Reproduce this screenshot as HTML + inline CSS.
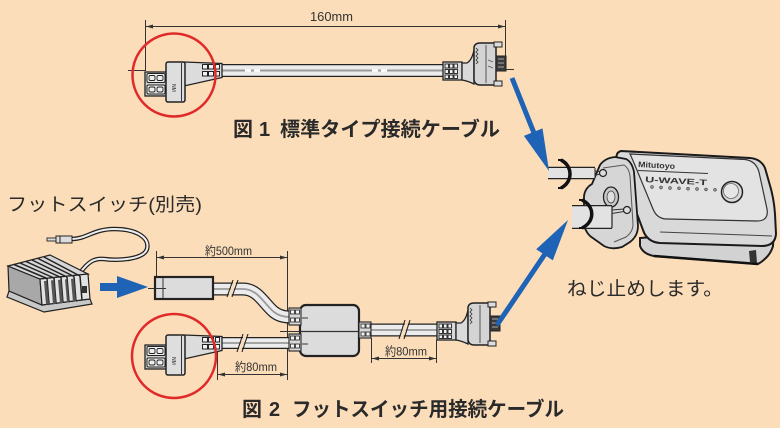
<!DOCTYPE html>
<html><head><meta charset="utf-8">
<style>
html,body{margin:0;padding:0;background:#FCDDB9;width:780px;height:428px;overflow:hidden}
svg{display:block}
</style></head><body>
<svg width="780" height="428" viewBox="0 0 780 428" xmlns="http://www.w3.org/2000/svg">
<rect width="780" height="428" fill="#FCDDB9"/>

<!-- ===== FIG 1 dimension ===== -->
<g stroke="#333" stroke-width="1" fill="none">
  <line x1="145.5" y1="20" x2="145.5" y2="71"/>
  <line x1="505.5" y1="20" x2="505.5" y2="69"/>
  <line x1="145.5" y1="26.5" x2="505.5" y2="26.5"/>
  <line x1="128" y1="70.5" x2="146" y2="70.5"/>
  <line x1="500" y1="69.5" x2="514" y2="69.5"/>
</g>
<polygon points="146,26.5 153,24.5 153,28.5" fill="#333"/>
<polygon points="505,26.5 498,24.5 498,28.5" fill="#333"/>
<text x="310" y="21" font-family="Liberation Sans, sans-serif" font-size="12.5" fill="#333" textLength="43" lengthAdjust="spacingAndGlyphs">160mm</text>

<!-- ===== FIG 1 cable ===== -->
<path d="M222 70.5 L445 70.5" stroke="#222" stroke-width="13" fill="none"/>
<path d="M222 70.5 L445 70.5" stroke="#ececec" stroke-width="10.5" fill="none"/>
<path d="M222 70.5 L445 70.5" stroke="#9a9a9a" stroke-width="2" fill="none"/>
<path d="M245 70.5 L262 70.5 M372 70.5 L390 70.5" stroke="#fff" stroke-width="2" stroke-dasharray="6 3" fill="none"/>

<!-- left connector fig1 -->
<g>
  <path d="M184 62 L222 63.5 L222 77.5 L184 86 Z" fill="#dcdcdc" stroke="#222" stroke-width="1.3"/>
  <g fill="#f2f2f2" stroke="#222" stroke-width="1">
    <rect x="202.5" y="64.5" width="5" height="4.5"/>
    <rect x="208.5" y="64.5" width="5" height="4.5"/>
    <rect x="215.5" y="64.5" width="4" height="4.5"/>
    <rect x="202.5" y="71.5" width="5" height="4.5"/>
    <rect x="208.5" y="71.5" width="5" height="4.5"/>
    <rect x="215.5" y="71.5" width="4" height="4.5"/>
  </g>
  <rect x="145" y="72" width="22" height="24" fill="#cfcfcf" stroke="#222" stroke-width="1.3"/>
  <rect x="147" y="73.5" width="18" height="9" rx="1.5" fill="#eee" stroke="#222"/>
  <rect x="147" y="85" width="18" height="9" rx="1.5" fill="#eee" stroke="#222"/>
  <g fill="none" stroke="#222" stroke-width="0.9">
    <rect x="149" y="75.5" width="6" height="5" rx="1.5"/>
    <rect x="157" y="75.5" width="6" height="5" rx="1.5"/>
    <rect x="149" y="87" width="6" height="5" rx="1.5"/>
    <rect x="157" y="87" width="6" height="5" rx="1.5"/>
  </g>
  <rect x="166" y="62" width="19" height="40" rx="2" fill="#dedede" stroke="#222" stroke-width="1.5"/>
  <line x1="181.5" y1="63" x2="181.5" y2="101" stroke="#333"/>
  <text transform="translate(172,84) rotate(90)" font-family="Liberation Sans, sans-serif" font-size="5" fill="#333">NM</text>
</g>

<!-- right connector fig1 -->
<g>
  <rect x="443" y="62" width="19" height="18" fill="#d8d8d8" stroke="#222" stroke-width="1.3"/>
  <g fill="#f2f2f2" stroke="#222" stroke-width="0.9">
    <rect x="445" y="64" width="3.5" height="4"/><rect x="449.5" y="64" width="3.5" height="4"/><rect x="454" y="64" width="3.5" height="4"/>
    <rect x="445" y="69.5" width="3.5" height="4"/><rect x="449.5" y="69.5" width="3.5" height="4"/><rect x="454" y="69.5" width="3.5" height="4"/>
    <rect x="445" y="75" width="3.5" height="3.5"/><rect x="449.5" y="75" width="3.5" height="3.5"/><rect x="454" y="75" width="3.5" height="3.5"/>
  </g>
  <path d="M462 63 L467 63 Q472 60 474 50 L474 84 Q468 81 462 80 Z" fill="#dadada" stroke="#222" stroke-width="1.3"/>
  <path d="M474 47 Q475 43 480 43 L496 43 L496 85 L480 85 Q475 85 474 80 Z" fill="#d4d4d4" stroke="#222" stroke-width="1.5"/>
  <path d="M476 48 L478 50 L476 52 L478 54 L476 56 L478 58 L476 60 L478 62 L476 64" stroke="#333" stroke-width="0.8" fill="none"/>
  <line x1="486" y1="45" x2="486" y2="83" stroke="#555"/>
  <path d="M488 60 L493 62 M488 66 L493 68" stroke="#555" stroke-width="0.8"/>
  <rect x="494" y="42" width="8" height="5" fill="#ddd" stroke="#222"/>
  <rect x="494" y="81" width="8" height="5" fill="#ddd" stroke="#222"/>
  <rect x="496" y="56" width="10" height="15" fill="#3a3a3a" stroke="#222"/>
  <path d="M498 59 L504 59 M498 63 L504 63 M498 67 L504 67" stroke="#aaa" stroke-width="1"/>
</g>

<!-- caption fig1 -->
<g font-family="Liberation Sans, 'Noto Sans CJK JP', sans-serif" font-weight="bold" font-size="20" fill="#2a2a2a">
  <text x="233" y="136">図</text>
  <text x="259" y="136">1</text>
  <text x="280" y="136" textLength="220" lengthAdjust="spacingAndGlyphs">標準タイプ接続ケーブル</text>
</g>

<!-- ===== FOOT SWITCH ===== -->
<text x="7" y="211" font-family="Liberation Sans, 'Noto Sans CJK JP', sans-serif" font-size="18.5" fill="#2a2a2a" textLength="195" lengthAdjust="spacingAndGlyphs">フットスイッチ(別売)</text>

<path d="M72 239 C86 239 94 229 114 229 C137 229 150 238 147 249 C144 259 120 261 104 259 C94 258 88 262 80 273" stroke="#222" stroke-width="4.5" fill="none"/>
<path d="M72 239 C86 239 94 229 114 229 C137 229 150 238 147 249 C144 259 120 261 104 259 C94 258 88 262 80 273" stroke="#eee" stroke-width="2" fill="none"/>
<rect x="56" y="236" width="16" height="7" fill="#ddd" stroke="#222"/>
<line x1="60" y1="236" x2="60" y2="243" stroke="#222"/>
<rect x="47" y="238" width="9" height="3" fill="#ddd" stroke="#222" stroke-width="0.9"/>

<polygon points="9,291 42,305 90,299 92,304 44,312 7,297" fill="#c8c8c8" stroke="#222" stroke-width="1.2"/>
<polygon points="8,266 40,279 42,305 9,291" fill="#a8a8a8" stroke="#222" stroke-width="1.2"/>
<polygon points="8,266 50,255 88,274 40,279" fill="#d6d6d6" stroke="#222" stroke-width="1.2"/>
<polygon points="40,279 88,274 90,299 42,305" fill="#e2e2e2" stroke="#222" stroke-width="1.2"/>
<g stroke="#222" stroke-width="1.5">
  <line x1="14" y1="264.5" x2="47" y2="278.5"/>
  <line x1="20" y1="263" x2="54" y2="278"/>
  <line x1="26" y1="261.5" x2="61" y2="277.5"/>
  <line x1="32" y1="260" x2="67" y2="277"/>
  <line x1="38" y1="258.5" x2="74" y2="276.5"/>
  <line x1="44" y1="257" x2="80" y2="276"/>
  <line x1="47" y1="278.5" x2="49" y2="304"/>
  <line x1="54" y1="278" x2="56" y2="303.5"/>
  <line x1="61" y1="277.5" x2="63" y2="303"/>
  <line x1="67" y1="277" x2="69" y2="302"/>
  <line x1="74" y1="276.5" x2="76" y2="301.5"/>
  <line x1="80" y1="276" x2="82" y2="300.5"/>
</g>
<g fill="#555">
  <polygon points="44,281 47,281 49,304 46,304.5"/>
  <polygon points="51,280.5 54,280 56,303.5 53,304"/>
  <polygon points="58,280 61,279.5 63,303 60,303.5"/>
  <polygon points="65,279.5 67,279 69,302 67,302.5"/>
  <polygon points="71,279 74,278.5 76,301.5 73,302"/>
</g>
<rect x="82" y="286" width="5" height="7" fill="#333"/>

<!-- blue arrow horizontal -->
<rect x="100" y="283" width="19" height="8" fill="#1E63B5"/>
<polygon points="117,276 148,287 117,298" fill="#1E63B5"/>

<!-- ===== FIG 2 dimensions ===== -->
<g stroke="#333" stroke-width="1" fill="none">
  <line x1="156.5" y1="251" x2="156.5" y2="278"/>
  <line x1="287.5" y1="251" x2="287.5" y2="380"/>
  <line x1="156.5" y1="257.5" x2="287.5" y2="257.5"/>
  <line x1="217.5" y1="350" x2="217.5" y2="380"/>
  <line x1="217.5" y1="374.5" x2="287.5" y2="374.5"/>
  <line x1="371.5" y1="338" x2="371.5" y2="363"/>
  <line x1="436.5" y1="340" x2="436.5" y2="363"/>
  <line x1="371.5" y1="358.5" x2="436.5" y2="358.5"/>
  <line x1="148" y1="288.5" x2="166" y2="288.5"/>
  <line x1="280" y1="331.5" x2="300" y2="331.5"/>
</g>
<g fill="#333">
  <polygon points="157,257.5 164,255.5 164,259.5"/>
  <polygon points="287,257.5 280,255.5 280,259.5"/>
  <polygon points="218,374.5 225,372.5 225,376.5"/>
  <polygon points="287,374.5 280,372.5 280,376.5"/>
  <polygon points="372,358.5 379,356.5 379,360.5"/>
  <polygon points="436,358.5 429,356.5 429,360.5"/>
</g>
<g font-family="Liberation Sans, 'Noto Sans CJK JP', sans-serif" font-size="12" fill="#333">
  <text x="205" y="255" textLength="47" lengthAdjust="spacingAndGlyphs">約500mm</text>
  <text x="235" y="371" textLength="42" lengthAdjust="spacingAndGlyphs">約80mm</text>
  <text x="385" y="355.5" textLength="42" lengthAdjust="spacingAndGlyphs">約80mm</text>
</g>

<!-- cables fig2 -->
<g fill="none">
  <path d="M213 289 L243 289 C258 289 264 304 274 312 C279 316 284 317 290 317" stroke="#222" stroke-width="13"/>
  <path d="M213 289 L243 289 C258 289 264 304 274 312 C279 316 284 317 290 317" stroke="#ececec" stroke-width="10.5"/>
  <path d="M213 289 L243 289 C258 289 264 304 274 312 C279 316 284 317 290 317" stroke="#9a9a9a" stroke-width="1.8"/>
  <path d="M217 343 L290 343" stroke="#222" stroke-width="12"/>
  <path d="M217 343 L290 343" stroke="#ececec" stroke-width="9.5"/>
  <path d="M217 343 L290 343" stroke="#9a9a9a" stroke-width="1.8"/>
  <path d="M368 330 L438 330" stroke="#222" stroke-width="13"/>
  <path d="M368 330 L438 330" stroke="#ececec" stroke-width="10.5"/>
  <path d="M368 330 L438 330" stroke="#9a9a9a" stroke-width="1.8"/>
</g>
<!-- breaks -->
<polygon points="228,297 234,280 237,280 231,297" fill="#FCDDB9"/>
<polygon points="238,351 244,335 247,335 241,351" fill="#FCDDB9"/>
<polygon points="400,338 406,321 409,321 403,338" fill="#FCDDB9"/>
<g stroke="#222" stroke-width="1.1">
  <line x1="227" y1="297" x2="233" y2="280"/><line x1="232" y1="297" x2="238" y2="280"/>
  <line x1="237" y1="352" x2="243" y2="334"/><line x1="242" y1="352" x2="248" y2="334"/>
  <line x1="399" y1="339" x2="405" y2="320"/><line x1="404" y1="339" x2="410" y2="320"/>
</g>

<!-- plug rect -->
<rect x="155" y="277" width="58" height="22" fill="#dcdcdc" stroke="#222" stroke-width="2.2"/>
<line x1="163" y1="278" x2="163" y2="298" stroke="#333"/>
<line x1="155" y1="288.5" x2="166" y2="288.5" stroke="#333"/>

<!-- junction box -->
<rect x="300" y="305" width="59" height="51" rx="6" fill="#dcdcdc" stroke="#222" stroke-width="2.2"/>
<line x1="300" y1="331.5" x2="359" y2="331.5" stroke="#333" stroke-width="1.2"/>
<g stroke="#333" stroke-width="1"><line x1="302" y1="318" x2="308" y2="318"/><line x1="302" y1="344" x2="308" y2="344"/></g>
<!-- ferrules at box -->
<g stroke="#222" stroke-width="1.1">
  <rect x="289" y="308" width="12" height="17" fill="#d8d8d8"/>
  <rect x="289" y="334" width="12" height="17" fill="#d8d8d8"/>
  <rect x="359" y="322" width="12" height="16" fill="#d8d8d8"/>
</g>
<g fill="#f2f2f2" stroke="#222" stroke-width="0.8">
  <rect x="290.5" y="310" width="4" height="4"/><rect x="295.5" y="310" width="4" height="4"/>
  <rect x="290.5" y="318" width="4" height="4"/><rect x="295.5" y="318" width="4" height="4"/>
  <rect x="290.5" y="336" width="4" height="4"/><rect x="295.5" y="336" width="4" height="4"/>
  <rect x="290.5" y="344" width="4" height="4"/><rect x="295.5" y="344" width="4" height="4"/>
  <rect x="361" y="324" width="4" height="4"/><rect x="366" y="324" width="4" height="4"/>
  <rect x="361" y="332" width="4" height="4"/><rect x="366" y="332" width="4" height="4"/>
</g>

<!-- left connector fig2 -->
<g transform="translate(0,273)">
  <path d="M184 62 L222 63.5 L222 77.5 L184 86 Z" fill="#dcdcdc" stroke="#222" stroke-width="1.3"/>
  <g fill="#f2f2f2" stroke="#222" stroke-width="1">
    <rect x="202.5" y="64.5" width="5" height="4.5"/>
    <rect x="208.5" y="64.5" width="5" height="4.5"/>
    <rect x="215.5" y="64.5" width="4" height="4.5"/>
    <rect x="202.5" y="71.5" width="5" height="4.5"/>
    <rect x="208.5" y="71.5" width="5" height="4.5"/>
    <rect x="215.5" y="71.5" width="4" height="4.5"/>
  </g>
  <rect x="145" y="72" width="22" height="24" fill="#cfcfcf" stroke="#222" stroke-width="1.3"/>
  <rect x="147" y="73.5" width="18" height="9" rx="1.5" fill="#eee" stroke="#222"/>
  <rect x="147" y="85" width="18" height="9" rx="1.5" fill="#eee" stroke="#222"/>
  <g fill="none" stroke="#222" stroke-width="0.9">
    <rect x="149" y="75.5" width="6" height="5" rx="1.5"/>
    <rect x="157" y="75.5" width="6" height="5" rx="1.5"/>
    <rect x="149" y="87" width="6" height="5" rx="1.5"/>
    <rect x="157" y="87" width="6" height="5" rx="1.5"/>
  </g>
  <rect x="166" y="62" width="19" height="40" rx="2" fill="#dedede" stroke="#222" stroke-width="1.5"/>
  <line x1="181.5" y1="63" x2="181.5" y2="101" stroke="#333"/>
  <text transform="translate(172,84) rotate(90)" font-family="Liberation Sans, sans-serif" font-size="5" fill="#333">NM</text>
</g>

<!-- right connector fig2 -->
<g transform="translate(-6,260)">
  <rect x="443" y="62" width="19" height="18" fill="#d8d8d8" stroke="#222" stroke-width="1.3"/>
  <g fill="#f2f2f2" stroke="#222" stroke-width="0.9">
    <rect x="445" y="64" width="3.5" height="4"/><rect x="449.5" y="64" width="3.5" height="4"/><rect x="454" y="64" width="3.5" height="4"/>
    <rect x="445" y="69.5" width="3.5" height="4"/><rect x="449.5" y="69.5" width="3.5" height="4"/><rect x="454" y="69.5" width="3.5" height="4"/>
    <rect x="445" y="75" width="3.5" height="3.5"/><rect x="449.5" y="75" width="3.5" height="3.5"/><rect x="454" y="75" width="3.5" height="3.5"/>
  </g>
  <path d="M462 63 L467 63 Q472 60 474 50 L474 84 Q468 81 462 80 Z" fill="#dadada" stroke="#222" stroke-width="1.3"/>
  <path d="M474 47 Q475 43 480 43 L496 43 L496 85 L480 85 Q475 85 474 80 Z" fill="#d4d4d4" stroke="#222" stroke-width="1.5"/>
  <path d="M476 48 L478 50 L476 52 L478 54 L476 56 L478 58 L476 60 L478 62 L476 64" stroke="#333" stroke-width="0.8" fill="none"/>
  <line x1="486" y1="45" x2="486" y2="83" stroke="#555"/>
  <rect x="494" y="42" width="8" height="5" fill="#ddd" stroke="#222"/>
  <rect x="494" y="81" width="8" height="5" fill="#ddd" stroke="#222"/>
  <rect x="496" y="56" width="10" height="15" fill="#3a3a3a" stroke="#222"/>
  <path d="M498 59 L504 59 M498 63 L504 63 M498 67 L504 67" stroke="#aaa" stroke-width="1"/>
</g>

<!-- caption fig2 -->
<g font-family="Liberation Sans, 'Noto Sans CJK JP', sans-serif" font-weight="bold" font-size="20" fill="#2a2a2a">
  <text x="242" y="416">図</text>
  <text x="269" y="416">2</text>
  <text x="292" y="416" textLength="272" lengthAdjust="spacingAndGlyphs">フットスイッチ用接続ケーブル</text>
</g>

<!-- ===== DEVICE ===== -->
<path d="M640 238 L774 228 L773 246 Q770 257 758 264 L654 256 Q643 254 640 246 Z" fill="#d2d2d2" stroke="#1a1a1a" stroke-width="2"/>
<polygon points="749,251 756,250 757,263 750,262" fill="#333"/>
<path d="M654 256 L758 264" stroke="#111" stroke-width="2.5"/>
<path d="M621 151 Q614 153 618 163 L643 230 Q647 242 660 243 L762 246 Q775 246 776 234 L775 214 Q774 198 769 182 L765 168 Q761 159 750 158 Z" fill="#d9d9d9" stroke="#1a1a1a" stroke-width="2"/>
<path d="M630 154 L745 159.5 Q756 161 759 172 L767 209 Q769 221 757 221 L667 219 Q657 219 653 209 L634 163 Q631 156 630 154 Z" fill="#e3e3e3" stroke="#333" stroke-width="1.2"/>
<path d="M660 232 L772 236" stroke="#444" stroke-width="1"/>
<text x="638" y="167" font-family="Liberation Sans, sans-serif" font-weight="bold" font-size="8" fill="#333" transform="rotate(3 638 167)" textLength="37" lengthAdjust="spacingAndGlyphs">Mitutoyo</text>
<line x1="638" y1="170.5" x2="708" y2="173.5" stroke="#333" stroke-width="1"/>
<text x="645" y="182" font-family="Liberation Sans, sans-serif" font-weight="bold" font-size="8" fill="#333" transform="rotate(3 645 182)" textLength="62" lengthAdjust="spacingAndGlyphs">U-WAVE-T</text>
<g fill="#999" stroke="#444" stroke-width="0.6">
  <circle cx="652" cy="187" r="1.4"/><circle cx="661" cy="187.5" r="1.4"/><circle cx="670" cy="188" r="1.4"/><circle cx="679" cy="188.3" r="1.4"/>
  <circle cx="688" cy="188.7" r="1.4"/><circle cx="697" cy="189" r="1.4"/><circle cx="706" cy="189.4" r="1.4"/><circle cx="715" cy="189.8" r="1.4"/>
</g>
<circle cx="732" cy="192" r="10.5" fill="#d8d8d8" stroke="#222" stroke-width="1.5"/>
<circle cx="731" cy="191" r="7.5" fill="#e6e6e6" stroke="#666" stroke-width="0.8"/>

<!-- connector block -->
<path d="M600 165 Q605 158 615 157 L626 159 Q632 162 634 172 L638 226 Q638 236 630 242 L622 247 Q612 250 604 246 L590 236 Q584 230 584 222 L584 196 Q585 188 592 184 Z" fill="#d6d6d6" stroke="#1a1a1a" stroke-width="1.8"/>
<path d="M603 168 L624 165 Q629 168 630 176 L633 224 Q633 232 626 237 L614 242" fill="none" stroke="#555" stroke-width="1"/>
<ellipse cx="611" cy="197" rx="7.5" ry="10" fill="#c8c8c8" stroke="#222" stroke-width="1.3"/>
<ellipse cx="611" cy="197" rx="4" ry="6" fill="#dedede" stroke="#444" stroke-width="0.8"/>

<!-- device cables -->
<path d="M548 173 L595 173" stroke="#222" stroke-width="12.5" fill="none"/>
<path d="M548 173 L595 173" stroke="#e2e2e2" stroke-width="10" fill="none"/>
<line x1="595" y1="168" x2="595" y2="178" stroke="#222"/>
<path d="M595 171 L602 172 M595 175 L602 174" stroke="#333" stroke-width="0.9"/>
<circle cx="603" cy="173" r="3.5" fill="#ddd" stroke="#222" stroke-width="1.2"/>

<path d="M572 217 L612 217" stroke="#222" stroke-width="24" fill="none"/>
<path d="M572 217 L612 217" stroke="#e2e2e2" stroke-width="21.5" fill="none"/>
<line x1="612" y1="206" x2="612" y2="228" stroke="#222" stroke-width="1.2"/>
<path d="M612 210 L624 209 M612 213.5 L624 211.5" stroke="#333" stroke-width="0.9"/>
<circle cx="627" cy="210" r="3.5" fill="#ddd" stroke="#222" stroke-width="1.2"/>

<!-- clip rings -->
<path d="M561 160 C573 166 573 182 561 188" stroke="#111" stroke-width="3.5" fill="none"/>
<path d="M558 160 L563 160 M558 188 L563 188" stroke="#111" stroke-width="2"/>
<path d="M582 200 C595 206 595 222 582 228" stroke="#111" stroke-width="3.5" fill="none"/>
<path d="M579 200 L584 200 M579 228 L584 228" stroke="#111" stroke-width="2"/>

<text x="567" y="295" font-family="Liberation Sans, 'Noto Sans CJK JP', sans-serif" font-size="19" fill="#2a2a2a" textLength="156" lengthAdjust="spacingAndGlyphs">ねじ止めします。</text>

<!-- blue arrows -->
<line x1="512" y1="78" x2="534" y2="133" stroke="#1E63B5" stroke-width="5"/>
<polygon points="542.5,128.4 549,171 523.9,135.9" fill="#1E63B5"/>
<line x1="497" y1="325" x2="545" y2="254" stroke="#1E63B5" stroke-width="5"/>
<polygon points="552.8,260.4 568,220 536.2,249.2" fill="#1E63B5"/>

<!-- red circles -->
<circle cx="174" cy="75" r="41.5" fill="none" stroke="#E02A2A" stroke-width="2.5"/>
<circle cx="174" cy="356" r="42" fill="none" stroke="#E02A2A" stroke-width="2.5"/>
</svg>
</body></html>
